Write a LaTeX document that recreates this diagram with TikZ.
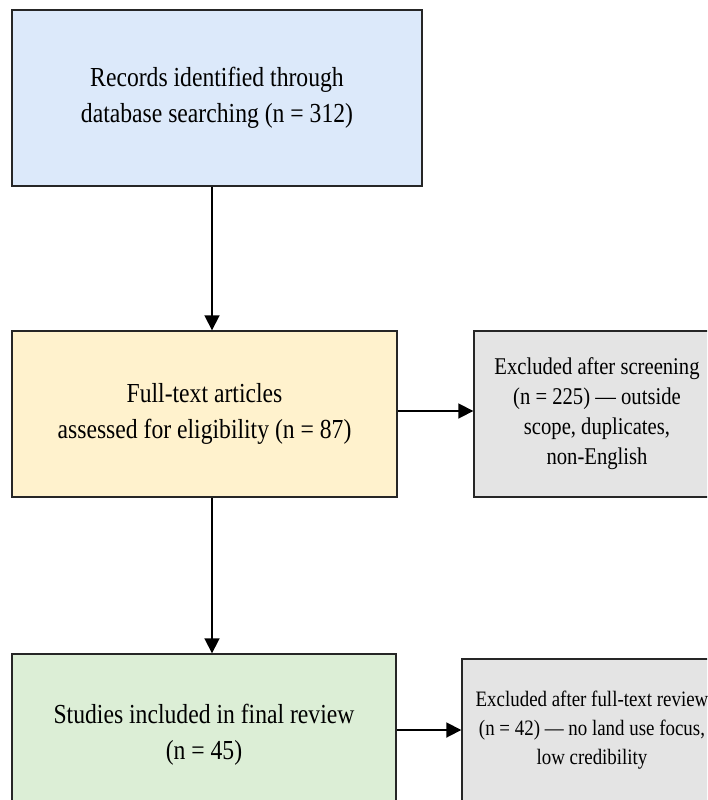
\documentclass[tikz,border=0pt]{standalone}
\usepackage{fontspec}
\setmainfont[FakeStretch=0.86]{Liberation Serif}
\usetikzlibrary{arrows.meta}
\definecolor{bluefill}{HTML}{DCE9FA}
\definecolor{yellowfill}{HTML}{FFF2CD}
\definecolor{greenfill}{HTML}{DCEED6}
\definecolor{grayfill}{HTML}{E4E4E4}
\definecolor{edge}{HTML}{262626}
\tikzset{
  box/.style={draw=edge, line width=1.4pt, rectangle, align=center, inner sep=0pt},
  mainfont/.style={font={\fontsize{27.5}{36}\selectfont}},
  sidefont/.style={font={\fontsize{24}{30}\selectfont}},
  sidefontb/.style={font={\fontsize{22}{29}\selectfont}},
  flow/.style={line width=1.8pt, draw=black, -{Triangle[length=15pt,width=15pt]}}
}
\begin{document}
\begin{tikzpicture}[x=1pt,y=-1pt]
\useasboundingbox (0,0) rectangle (707,800);
\clip (0,0) rectangle (707,800);
\fill[white] (0,0) rectangle (707,800);
\node[box, mainfont, fill=bluefill, minimum width=410pt, minimum height=176pt] (b1) at (217,98)
  {Records identified through\\database searching (n = 312)};
\node[box, mainfont, fill=yellowfill, minimum width=385pt, minimum height=166pt] (b2) at (204.5,414)
  {Full-text articles\\assessed for eligibility (n = 87)};
\node[box, sidefont, fill=grayfill, minimum width=246pt, minimum height=166pt] (b3) at (597,414)
  {Excluded after screening\\(n = 225) — outside\\scope, duplicates,\\non-English};
\node[box, mainfont, fill=greenfill, minimum width=384pt, minimum height=162pt] (b4) at (204,735)
  {Studies included in final review\\(n = 45)};
\node[box, sidefontb, fill=grayfill, minimum width=260pt, minimum height=142pt] (b5) at (592,730)
  {Excluded after full-text review\\(n = 42) — no land use focus,\\low credibility};
\coordinate (ax) at (212,0);
\draw[flow] (b1.south -| ax) -- (b2.north -| ax);
\draw[flow] (b2.south -| ax) -- (b4.north -| ax);
\draw[flow] (b2.east |- 0,411) -- (b3.west |- 0,411);
\draw[flow] (b4.east |- b5.west) -- (b5.west);
\end{tikzpicture}
\end{document}
